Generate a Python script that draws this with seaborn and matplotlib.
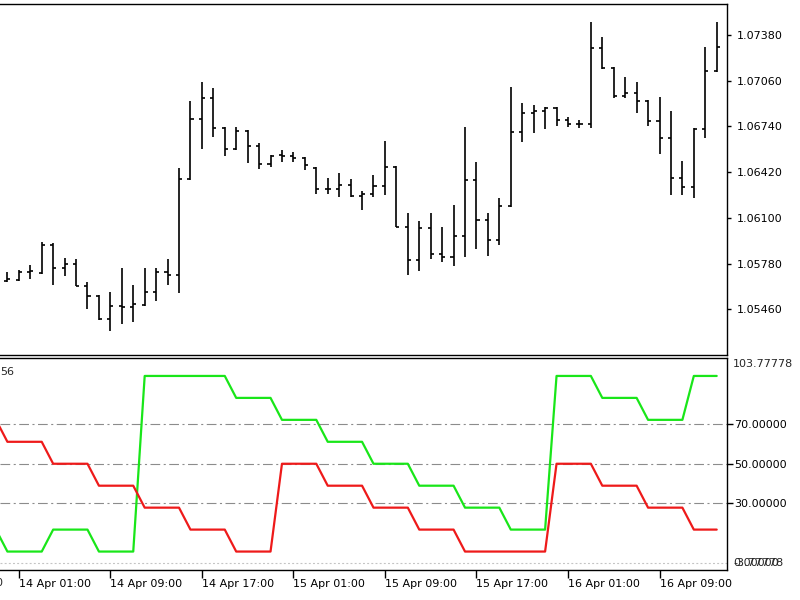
import numpy as np
import pandas as pd
import matplotlib
matplotlib.use('Agg')
import matplotlib.pyplot as plt
import matplotlib.transforms as mtransforms
import seaborn as sns

sns.set_style('white')
plt.rcParams['font.family'] = ['DejaVu Sans']
plt.rcParams['lines.scale_dashes'] = False

# hourly bars, first one sits just off the left edge
times = pd.date_range('2023-04-13 23:00', periods=64, freq='h')

opens = [1.05690, 1.05658, 1.05665, 1.05721, 1.05714, 1.05910, 1.05749, 1.05777,
         1.05623, 1.05553, 1.05392, 1.05483, 1.05476, 1.05490, 1.05581, 1.05721,
         1.05700, 1.06372, 1.06792, 1.06939, 1.06729, 1.06582, 1.06708, 1.06603,
         1.06477, 1.06540, 1.06533, 1.06519, 1.06449, 1.06302, 1.06302, 1.06330,
         1.06253, 1.06267, 1.06323, 1.06456, 1.06036, 1.05805, 1.06029, 1.05847,
         1.05826, 1.05973, 1.06365, 1.06085, 1.05945, 1.06183, 1.06701, 1.06834,
         1.06848, 1.06869, 1.06785, 1.06757, 1.06757, 1.07289, 1.07152, 1.06953,
         1.06974, 1.06918, 1.06778, 1.06659, 1.06379, 1.06316, 1.06722, 1.07128]
highs = [1.05705, 1.05721, 1.05735, 1.05770, 1.05931, 1.05924, 1.05819, 1.05812,
         1.05651, 1.05560, 1.05581, 1.05749, 1.05630, 1.05749, 1.05749, 1.05812,
         1.06449, 1.06918, 1.07051, 1.07009, 1.06736, 1.06736, 1.06712, 1.06624,
         1.06540, 1.06575, 1.06561, 1.06525, 1.06456, 1.06379, 1.06414, 1.06372,
         1.06288, 1.06400, 1.06638, 1.06463, 1.06134, 1.06078, 1.06134, 1.06036,
         1.06190, 1.06736, 1.06491, 1.06134, 1.06239, 1.07016, 1.06904, 1.06890,
         1.06876, 1.06876, 1.06806, 1.06785, 1.07471, 1.07366, 1.07159, 1.07086,
         1.07051, 1.06925, 1.06946, 1.06848, 1.06498, 1.06729, 1.07296, 1.07471]
lows = [1.05640, 1.05651, 1.05658, 1.05672, 1.05707, 1.05630, 1.05693, 1.05623,
        1.05462, 1.05385, 1.05308, 1.05357, 1.05371, 1.05483, 1.05518, 1.05630,
        1.05574, 1.06365, 1.06582, 1.06666, 1.06533, 1.06575, 1.06484, 1.06442,
        1.06456, 1.06491, 1.06491, 1.06435, 1.06267, 1.06267, 1.06246, 1.06246,
        1.06155, 1.06246, 1.06260, 1.06036, 1.05700, 1.05728, 1.05812, 1.05791,
        1.05763, 1.05826, 1.05882, 1.05833, 1.05910, 1.06176, 1.06631, 1.06694,
        1.06722, 1.06743, 1.06736, 1.06729, 1.06729, 1.07145, 1.06939, 1.06939,
        1.06834, 1.06743, 1.06547, 1.06260, 1.06260, 1.06239, 1.06659, 1.07121]
closes = [1.05660, 1.05672, 1.05721, 1.05728, 1.05910, 1.05749, 1.05777, 1.05623,
          1.05553, 1.05392, 1.05483, 1.05476, 1.05497, 1.05581, 1.05721, 1.05700,
          1.06372, 1.06792, 1.06939, 1.06729, 1.06582, 1.06708, 1.06603, 1.06477,
          1.06533, 1.06533, 1.06519, 1.06470, 1.06302, 1.06302, 1.06330, 1.06253,
          1.06267, 1.06323, 1.06456, 1.06036, 1.05805, 1.06029, 1.05847, 1.05826,
          1.05973, 1.06365, 1.06085, 1.05945, 1.06183, 1.06701, 1.06834, 1.06848,
          1.06869, 1.06785, 1.06757, 1.06757, 1.07289, 1.07152, 1.06953, 1.06974,
          1.06918, 1.06778, 1.06659, 1.06379, 1.06316, 1.06722, 1.07128, 1.07296]

aroon_up = [16.67, 5.56, 5.56, 5.56, 5.56, 16.67, 16.67, 16.67,
            16.67, 5.56, 5.56, 5.56, 5.56, 94.44, 94.44, 94.44,
            94.44, 94.44, 94.44, 94.44, 94.44, 83.33, 83.33, 83.33,
            83.33, 72.22, 72.22, 72.22, 72.22, 61.11, 61.11, 61.11,
            61.11, 50.0, 50.0, 50.0, 50.0, 38.89, 38.89, 38.89,
            38.89, 27.78, 27.78, 27.78, 27.78, 16.67, 16.67, 16.67,
            16.67, 94.44, 94.44, 94.44, 94.44, 83.33, 83.33, 83.33,
            83.33, 72.22, 72.22, 72.22, 72.22, 94.44, 94.44, 94.44]
aroon_down = [72.22, 61.11, 61.11, 61.11, 61.11, 50.0, 50.0, 50.0,
              50.0, 38.89, 38.89, 38.89, 38.89, 27.78, 27.78, 27.78,
              27.78, 16.67, 16.67, 16.67, 16.67, 5.56, 5.56, 5.56,
              5.56, 50.0, 50.0, 50.0, 50.0, 38.89, 38.89, 38.89,
              38.89, 27.78, 27.78, 27.78, 27.78, 16.67, 16.67, 16.67,
              16.67, 5.56, 5.56, 5.56, 5.56, 5.56, 5.56, 5.56,
              5.56, 50.0, 50.0, 50.0, 50.0, 38.89, 38.89, 38.89,
              38.89, 27.78, 27.78, 27.78, 27.78, 16.67, 16.67, 16.67]

price_ticks = [1.05460, 1.05780, 1.06100, 1.06420, 1.06740, 1.07060, 1.07380]
levels = [30, 50, 70]

idx = np.arange(len(times))
df = pd.DataFrame({'idx': idx, 'up': aroon_up, 'down': aroon_down})

fig = plt.figure(figsize=(8, 6), dpi=100)
ax1 = fig.add_axes([0, 1 - 354.5 / 600, 727 / 800, 351 / 600])
ax2 = fig.add_axes([0, 1 - 570 / 600, 727 / 800, 212.5 / 600])

# price bars (OHLC)
ax1.vlines(idx, lows, highs, color='black', lw=1.2)
ax1.hlines(opens, idx - 0.27, idx, color='black', lw=1.2)
ax1.hlines(closes, idx, idx + 0.27, color='black', lw=1.2)
ax1.set_xlim(0.353, 63.9)
ax1.set_ylim(1.05144, 1.07600)
ax1.set_xticks([])
ax1.yaxis.tick_right()
ax1.set_yticks(price_ticks)
ax1.set_yticklabels(['%.5f' % p for p in price_ticks])
ax1.tick_params(axis='y', direction='out', length=3, width=1, pad=4,
                labelsize=8, right=True, colors='black')

# aroon panel
for lv in levels:
    ax2.axhline(lv, color='#8c8c8c', lw=0.8, dashes=(7, 2.5, 1.5, 2.5), zorder=1)
ax2.axhline(0, color='#c4c4c4', lw=0.8, dashes=(1.4, 1.6), zorder=1)
sns.lineplot(data=df, x='idx', y='up', color='#19e619', lw=1.6, ax=ax2, zorder=3)
sns.lineplot(data=df, x='idx', y='down', color='#ee1a1a', lw=1.6, ax=ax2, zorder=3)
ax2.set_xlim(0.353, 63.9)
ax2.set_ylim(-3.77778, 103.77778)
ax2.set_xlabel('')
ax2.set_ylabel('')
ax2.yaxis.tick_right()
ax2.set_yticks(levels)
ax2.set_yticklabels(['%.5f' % v for v in levels])
ax2.tick_params(axis='y', direction='out', length=4, width=1, pad=1,
                labelsize=8, right=True, colors='black')

tick_pos = [i for i, t in enumerate(times) if t.hour in (1, 9, 17)]
ax2.set_xticks(tick_pos)
ax2.set_xticklabels([times[i].strftime('%d %b %H:%M') for i in tick_pos])
for lbl in ax2.get_xticklabels():
    lbl.set_ha('left')
ax2.tick_params(axis='x', direction='out', length=6, width=1, pad=0.5,
                labelsize=8, bottom=True, colors='black')

# label of the bar before the visible area, only its tail shows
tr = mtransforms.blended_transform_factory(ax2.transData, ax2.transAxes)
ax2.text(-5.67, -0.038, '13 Apr 17:00', transform=tr, fontsize=8,
         va='top', ha='left', clip_on=False)

for ax in (ax1, ax2):
    ax.spines['left'].set_visible(False)
    for s in ('top', 'right', 'bottom'):
        ax.spines[s].set_color('black')
        ax.spines[s].set_linewidth(1)

fig.text(0, 1 - 371.7 / 600, '56', fontsize=8, va='center', ha='left')
fig.text(733 / 800, 1 - 364 / 600, '103.77778', fontsize=8, va='center', ha='left')
fig.text(733 / 800, 1 - 563 / 600, '0.00000', fontsize=8, va='center', ha='left')
fig.text(733 / 800, 1 - 563 / 600, '-3.77778', fontsize=8, va='center', ha='left')

fig.savefig('out.png', dpi=100, facecolor='white')
